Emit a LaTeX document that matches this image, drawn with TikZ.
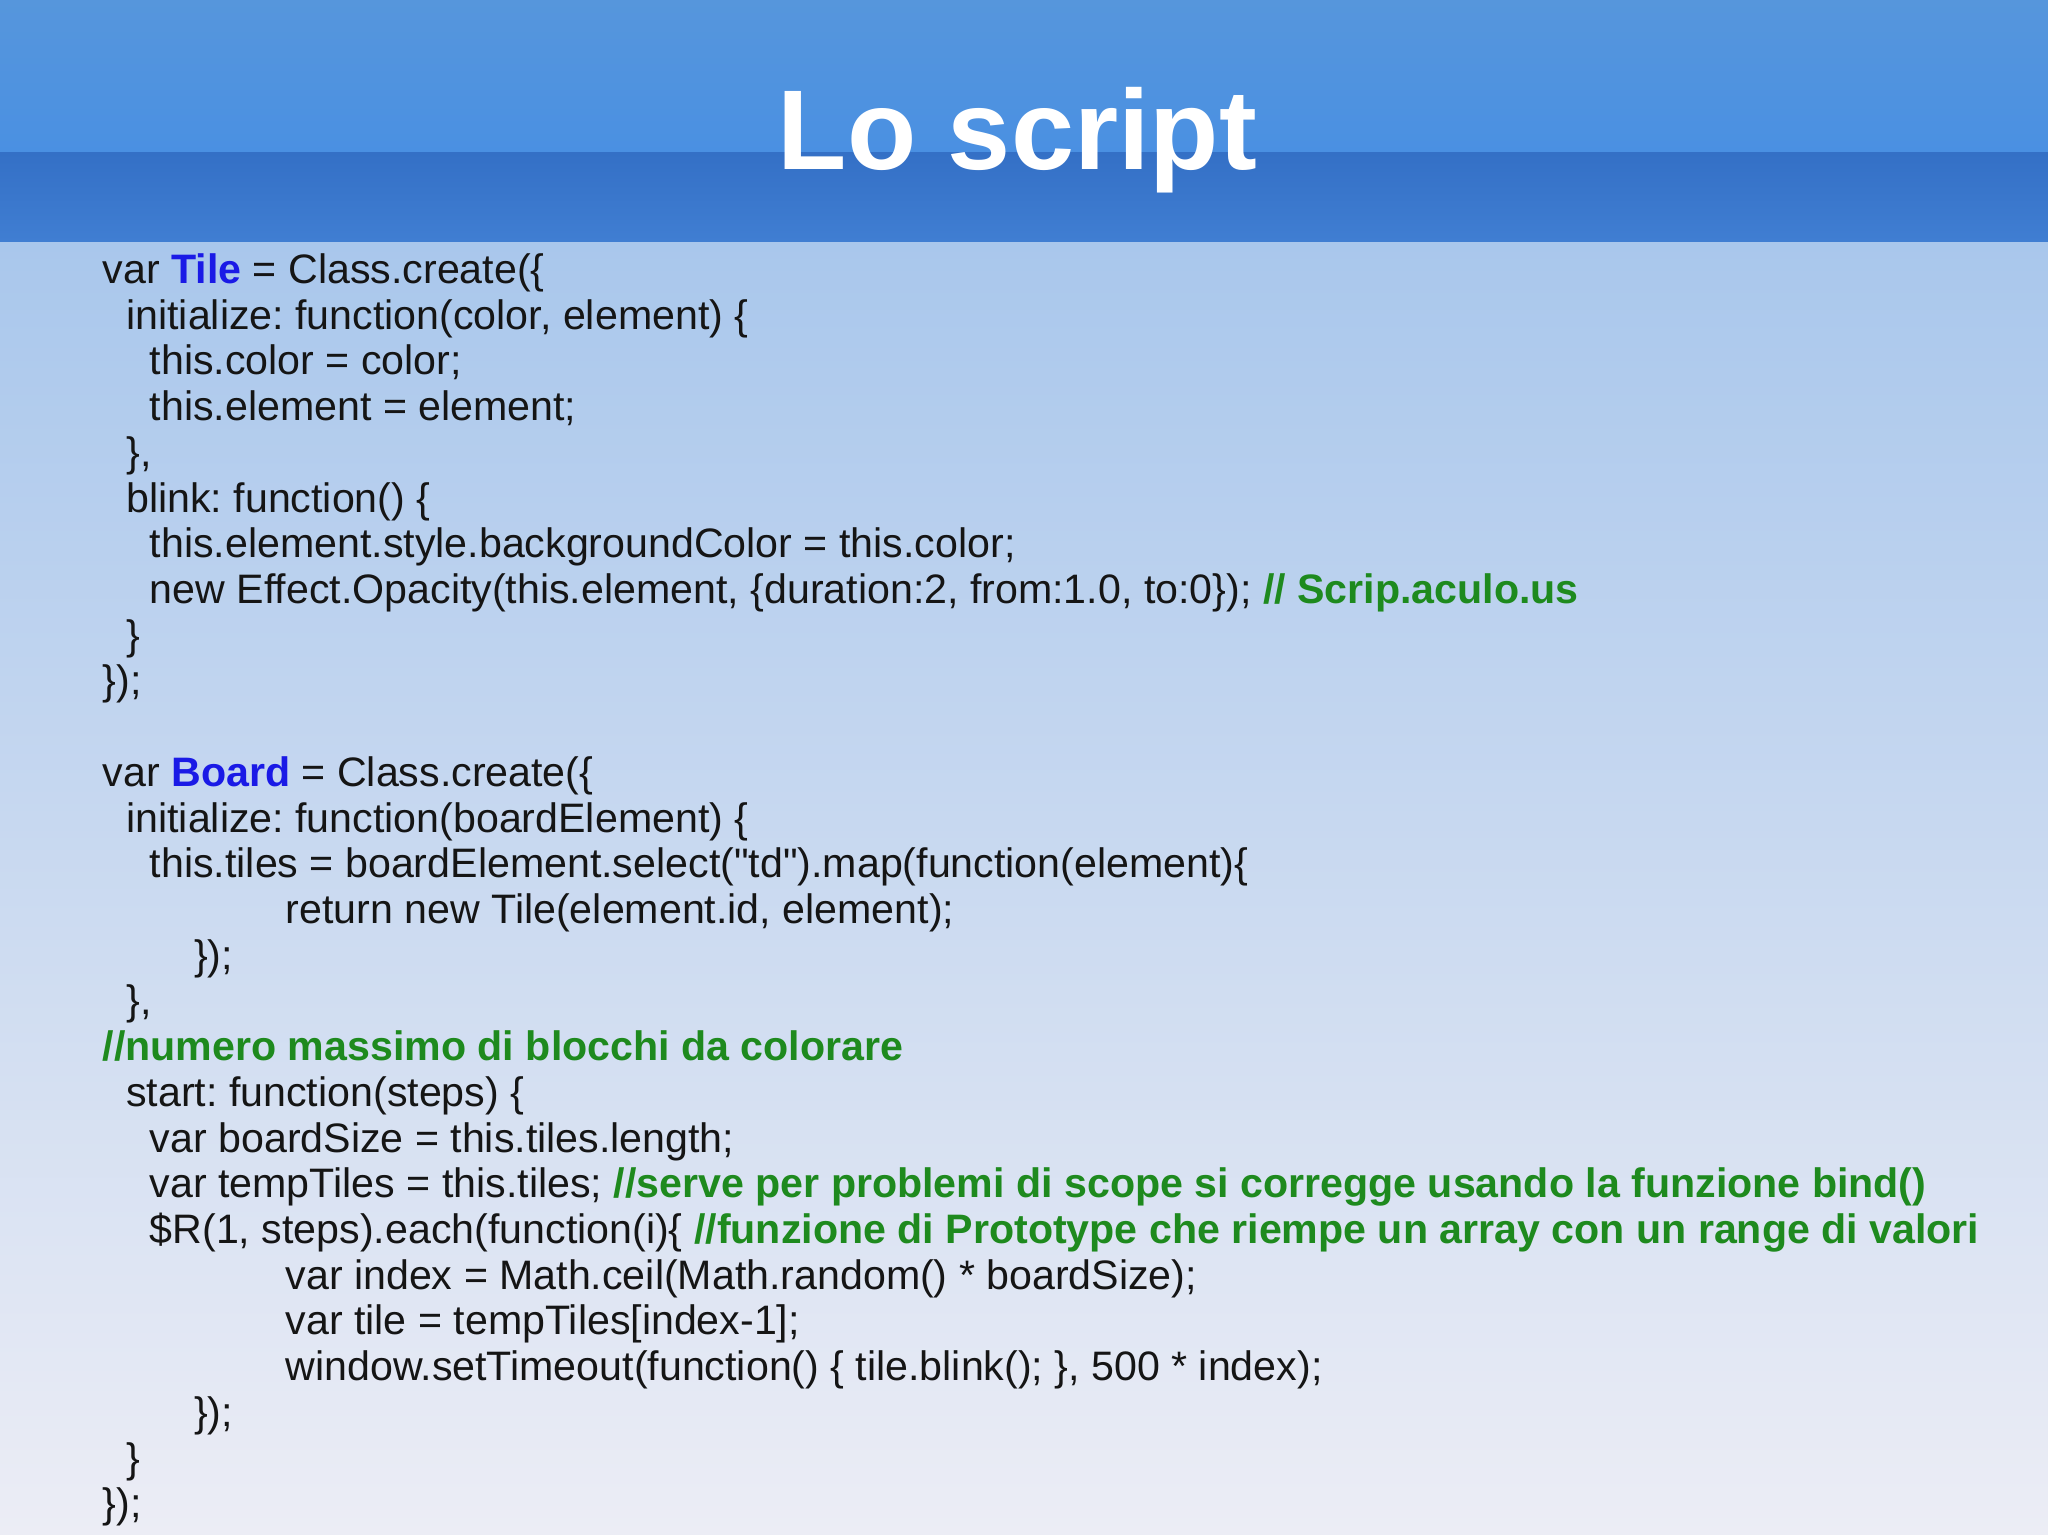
\documentclass[tikz,border=0pt]{standalone}
\usepackage{fontspec}
\setmainfont{Liberation Sans}
\newfontfamily\plainq[Ligatures=ResetAll]{Liberation Sans}
\frenchspacing
\definecolor{kw}{HTML}{1A1AE6}
\definecolor{cm}{HTML}{1E8A1E}
\definecolor{tx}{HTML}{151515}
\begin{document}
\begin{tikzpicture}[x=0.01cm,y=-0.01cm,
  code/.style={anchor=base west,inner sep=0pt,font=\fontsize{8.96pt}{11pt}\selectfont,text=tx}]
\newcommand{\kb}[1]{\textcolor{kw}{\textbf{#1}}}
\newcommand{\cb}[1]{\textcolor{cm}{\textbf{#1}}}
\newcommand{\qq}{{\plainq"}}
\useasboundingbox (0,0) rectangle (1568,1175);
\shade[bottom color={rgb,255:red,236;green,237;blue,245}, top color={rgb,255:red,169;green,199;blue,236}] (0,1175) rectangle (1568,185);
\shade[bottom color={rgb,255:red,74;green,144;blue,226}, top color={rgb,255:red,86;green,150;blue,220}] (0,0) rectangle (1568,117);
\shade[bottom color={rgb,255:red,64;green,126;blue,210}, top color={rgb,255:red,52;green,112;blue,198}] (0,117) rectangle (1568,185);
\node[anchor=base,inner sep=0pt,text=white,font=\bfseries\fontsize{24.7pt}{30pt}\selectfont] (title) at (779,130) {Lo script};
\node[code] (l1) at (78,217) {var \kb{Tile} = Class.create(\{};
\node[code] (l2) at (96,252) {initialize: function(color, element) \{};
\node[code] (l3) at (114,287) {this.color = color;};
\node[code] (l4) at (114,322) {this.element = element;};
\node[code] (l5) at (96,357) {\},};
\node[code] (l6) at (96,392) {blink: function() \{};
\node[code] (l7) at (114,427) {this.element.style.backgroundColor = this.color;};
\node[code] (l8) at (114,462) {new Effect.Opacity(this.element, \{duration:2, from:1.0, to:0\}); \cb{// Scrip.aculo.us}};
\node[code] (l9) at (96,497) {\}};
\node[code] (l10) at (78,532) {\});};
\node[code] (m1) at (78,602) {var \kb{Board} = Class.create(\{};
\node[code] (m2) at (96,637) {initialize: function(boardElement) \{};
\node[code] (m3) at (114,672) {this.tiles = boardElement.select(\qq td\qq).map(function(element)\{};
\node[code] (m4) at (218,707) {return new Tile(element.id, element);};
\node[code] (m5) at (148,742) {\});};
\node[code] (m6) at (96,777) {\},};
\node[code] (m7) at (78,812) {\cb{//numero massimo di blocchi da colorare}};
\node[code] (m8) at (96,847) {start: function(steps) \{};
\node[code] (m9) at (114,882) {var boardSize = this.tiles.length;};
\node[code] (m10) at (114,917) {var tempTiles = this.tiles; \cb{//serve per problemi di scope si corregge usando la funzione bind()}};
\node[code] (m11) at (114,952) {\$R(1, steps).each(function(i)\{ \cb{//funzione di Prototype che riempe un array con un range di valori}};
\node[code] (m12) at (218,987) {var index = Math.ceil(Math.random() * boardSize);};
\node[code] (m13) at (218,1022) {var tile = tempTiles[index-1];};
\node[code] (m14) at (218,1057) {window.setTimeout(function() \{ tile.blink(); \}, 500 * index);};
\node[code] (m15) at (148,1092) {\});};
\node[code] (m16) at (96,1127) {\}};
\node[code] (m17) at (78,1162) {\});};
\end{tikzpicture}
\end{document}
